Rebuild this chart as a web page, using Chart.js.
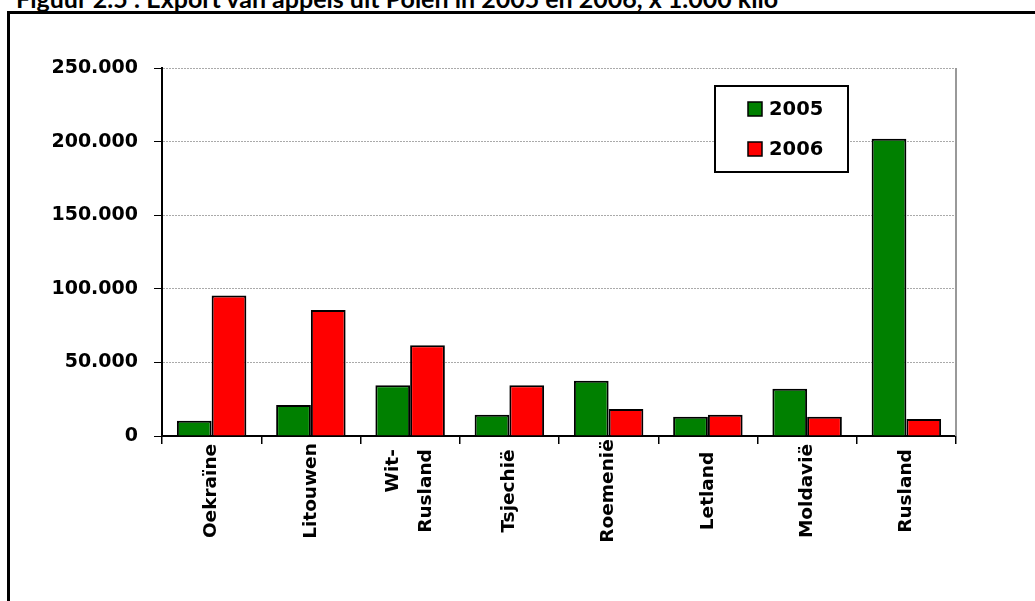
<!DOCTYPE html>
<html>
<head>
<meta charset="utf-8">
<script src="https://cdn.jsdelivr.net/npm/chart.js@4.4.1/dist/chart.umd.min.js"></script>
<style>
  html, body { margin: 0; padding: 0; background: #fff; overflow: hidden; }
  #title {
    position: absolute; left: 16px; top: -14px; white-space: nowrap;
    font: bold 25px Lato, "Open Sans", sans-serif; line-height: 25px; color: #000;
  }
  #frame {
    position: absolute; left: 7px; top: 11px; width: 2000px; height: 2000px;
    border-left: 3px solid #000; border-top: 3px solid #000;
  }
  #wrap { position: absolute; left: 0; top: 0; width: 1035px; height: 601px; }
</style>
</head>
<body>
<div id="title">Figuur 2.5 : Export van appels uit Polen in 2005 en 2006, x 1.000 kilo</div>
<div id="frame"></div>
<div id="wrap"><canvas id="chart"></canvas></div>
<script>
// Data (x 1.000 kilo)
const countries = ['Oekraïne', 'Litouwen', ['Wit-', 'Rusland'], 'Tsjechië', 'Roemenië', 'Letland', 'Moldavië', 'Rusland'];
const export2005 = [10400, 21100, 34500, 14400, 37600, 13100, 32100, 201900];
const export2006 = [95500, 85600, 61600, 34500, 18300, 14500, 13100, 11600];
const seriesNames = ['2005', '2006'];
const seriesColors = ['#008000', '#FF0000'];
const yMax = 250000;
const yStep = 50000;

const FONT = '"DejaVu Sans", Verdana, sans-serif';

function fmt(v) {
  return String(v).replace(/\B(?=(\d{3})+(?!\d))/g, '.');
}

// gray line on the right side of the plot area
const plotBorder = {
  id: 'plotBorder',
  beforeDatasetsDraw(chart) {
    const { ctx, chartArea: a } = chart;
    ctx.save();
    ctx.strokeStyle = '#999';
    ctx.lineWidth = 2;
    ctx.beginPath();
    ctx.moveTo(a.right, a.top);
    ctx.lineTo(a.right, a.bottom);
    ctx.stroke();
    ctx.restore();
  }
};

// rotated category labels, centred below the axis like the original
const xLabels = {
  id: 'xLabels',
  afterDraw(chart) {
    const { ctx } = chart;
    const xs = chart.scales.x;
    const centerY = chart.chartArea.bottom + 55;
    const lineH = 33;
    ctx.save();
    ctx.font = 'bold 18.5px ' + FONT;
    ctx.fillStyle = '#000';
    ctx.textBaseline = 'middle';
    ctx.textAlign = 'right';
    chart.data.labels.forEach((lab, i) => {
      const lines = Array.isArray(lab) ? lab : [lab];
      const w = Math.max(...lines.map(l => ctx.measureText(l).width));
      ctx.save();
      ctx.translate(xs.getPixelForValue(i), centerY);
      ctx.rotate(-Math.PI / 2);
      lines.forEach((l, j) => {
        ctx.fillText(l, w / 2, (j - (lines.length - 1) / 2) * lineH);
      });
      ctx.restore();
    });
    ctx.restore();
  }
};

// boxed legend inside the plot area
const legendBox = {
  id: 'legendBox',
  afterDraw(chart) {
    const { ctx, chartArea: a } = chart;
    const x = a.left + 553, y = a.top + 18, w = 133, h = 86;
    ctx.save();
    ctx.fillStyle = '#fff';
    ctx.fillRect(x, y, w, h);
    ctx.lineWidth = 2;
    ctx.strokeStyle = '#000';
    ctx.strokeRect(x, y, w, h);
    ctx.font = 'bold 19.5px ' + FONT;
    ctx.textBaseline = 'middle';
    ctx.textAlign = 'left';
    chart.data.datasets.forEach((ds, i) => {
      const sy = y + 16 + i * 40;
      ctx.fillStyle = ds.backgroundColor;
      ctx.fillRect(x + 33, sy, 14, 14);
      ctx.lineWidth = 1.5;
      ctx.strokeRect(x + 33, sy, 14, 14);
      ctx.fillStyle = '#000';
      ctx.fillText(ds.label, x + 54, sy + 8);
    });
    ctx.restore();
  }
};

const ctx = document.getElementById('chart').getContext('2d');
new Chart(ctx, {
  type: 'bar',
  data: {
    labels: countries,
    datasets: [
      { label: seriesNames[0], data: export2005, backgroundColor: seriesColors[0] },
      { label: seriesNames[1], data: export2006, backgroundColor: seriesColors[1] }
    ]
  },
  options: {
    responsive: true,
    maintainAspectRatio: false,
    animation: false,
    layout: { padding: { top: 68, right: 79, bottom: 0, left: 0 } },
    datasets: {
      bar: {
        borderColor: '#000',
        borderWidth: 2,
        categoryPercentage: 0.7,
        barPercentage: 1.0
      }
    },
    plugins: {
      legend: { display: false },
      tooltip: { enabled: false }
    },
    scales: {
      x: {
        afterFit(scale) { scale.height = 165; },
        ticks: { display: false },
        grid: {
          offset: true,
          drawOnChartArea: false,
          color: '#000',
          tickColor: '#000',
          tickLength: 8,
          lineWidth: 1.5
        },
        border: { color: '#000', width: 2 }
      },
      y: {
        min: 0,
        max: yMax,
        afterFit(scale) { scale.width = 162; },
        ticks: {
          stepSize: yStep,
          padding: 16,
          color: '#000',
          font: { family: FONT, size: 19, weight: 'bold' },
          callback: v => fmt(v)
        },
        grid: {
          color: '#aaa',
          tickColor: '#000',
          tickLength: 8,
          lineWidth: 1
        },
        border: { color: '#000', width: 2, dash: [2, 1] }
      }
    }
  },
  plugins: [plotBorder, xLabels, legendBox]
});
</script>
</body>
</html>
